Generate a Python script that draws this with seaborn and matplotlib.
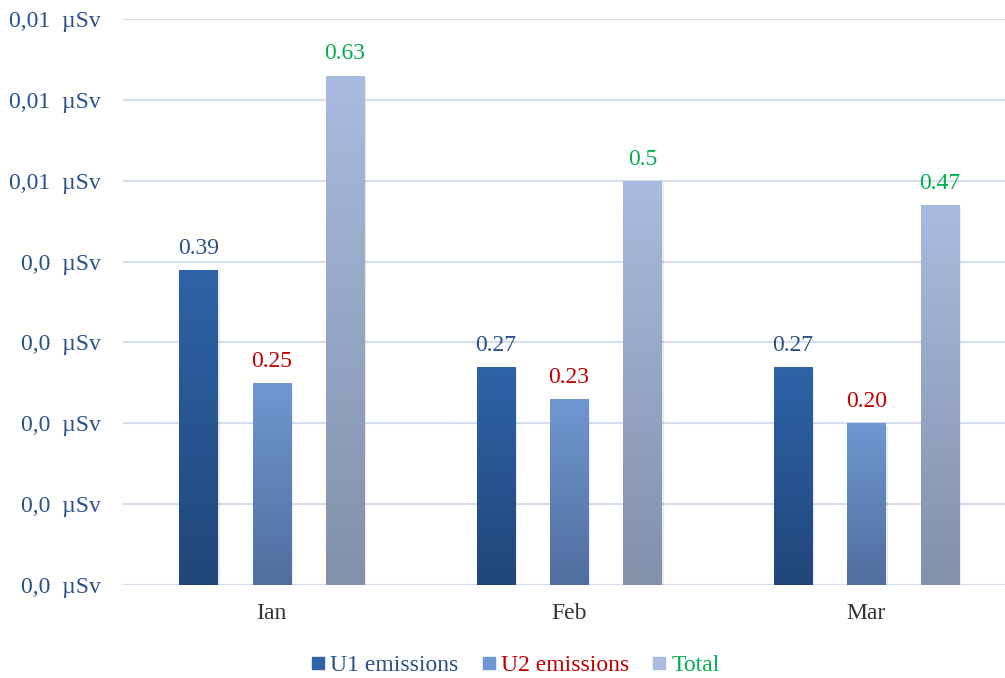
import numpy as np
import pandas as pd
import matplotlib
matplotlib.use("Agg")
import matplotlib.pyplot as plt
import seaborn as sns
from matplotlib.colors import LinearSegmentedColormap
from matplotlib.lines import Line2D

months = ["Ian", "Feb", "Mar"]
series = ["U1 emissions", "U2 emissions", "Total"]
u1_values = [0.39, 0.27, 0.27]
u2_values = [0.25, 0.23, 0.20]
total_values = [0.63, 0.50, 0.47]
value_labels = {
    "U1 emissions": ["0.39", "0.27", "0.27"],
    "U2 emissions": ["0.25", "0.23", "0.20"],
    "Total": ["0.63", "0.5", "0.47"],
}
ytick_values = [0.0, 0.1, 0.2, 0.3, 0.4, 0.5, 0.6, 0.7]
ytick_labels = ["0,0  µSv", "0,0  µSv", "0,0  µSv", "0,0  µSv", "0,0  µSv",
                "0,01  µSv", "0,01  µSv", "0,01  µSv"]

top_colors = {"U1 emissions": "#2E63A7", "U2 emissions": "#6F97D1", "Total": "#A9BBDF"}
bot_colors = {"U1 emissions": "#21467A", "U2 emissions": "#506E9D", "Total": "#8290AA"}
text_colors = {"U1 emissions": "#2A5287", "U2 emissions": "#C00000", "Total": "#00B050"}
axis_text = "#2A5287"

df = pd.DataFrame({
    "month": months * 3,
    "series": [s for s in series for _ in months],
    "value": u1_values + u2_values + total_values,
})

plt.rcParams["font.family"] = ["Liberation Serif", "DejaVu Serif"]
fig = plt.figure(figsize=(10.05, 6.78), dpi=100)
ax = fig.add_axes([123 / 1005, 1 - 585 / 678, (1015 - 123) / 1005, (585 - 19) / 678])

sns.barplot(data=df, x="month", y="value", hue="series", hue_order=series,
            order=months, palette=top_colors, width=0.74, gap=0.48,
            ax=ax, legend=False, saturation=1, linewidth=0)

ax.set_ylim(0, 0.7)
ax.set_xlim(-0.5, 2.5)
ax.set_yticks(ytick_values)
ax.set_yticklabels(ytick_labels)
ax.yaxis.grid(True, color="#D5DEEE", linewidth=1.5)
ax.set_axisbelow(True)
for s in ax.spines.values():
    s.set_visible(False)
ax.tick_params(axis="both", length=0, labelsize=17, colors="#333333")
ax.tick_params(axis="y", pad=16, labelcolor=axis_text)
ax.tick_params(axis="x", pad=13, labelcolor="#333333")
ax.set_xlabel("")
ax.set_ylabel("")

# gradient fills + labels
for container, s in zip(ax.containers, series):
    cmap = LinearSegmentedColormap.from_list(s, [bot_colors[s], top_colors[s]])
    for patch, lab in zip(container.patches, value_labels[s]):
        x0, y0 = patch.get_x(), patch.get_y()
        w, h = patch.get_width(), patch.get_height()
        # shadow
        ax.add_patch(plt.Rectangle((x0 + 0.004, y0 - 0.003), w + 0.004, h,
                                   color="#000000", alpha=0.08, lw=0, zorder=1.5))
        grad = np.linspace(0, 1, 256).reshape(-1, 1)
        im = ax.imshow(grad, extent=[x0, x0 + w, y0, y0 + h], origin="lower",
                       cmap=cmap, aspect="auto", zorder=2.5)
        im.set_clip_path(patch)
        patch.set_zorder(2.4)
        ax.annotate(lab, (x0 + w / 2, y0 + h), xytext=(0, 8), textcoords="offset points",
                    ha="center", va="bottom", fontsize=17, color=text_colors[s])

ax.set_xlim(-0.5, 2.5)
ax.set_ylim(0, 0.7)

handles = [Line2D([], [], marker="s", linestyle="", markersize=9,
                  markerfacecolor=top_colors[s], markeredgecolor=top_colors[s]) for s in series]
leg = fig.legend(handles, series, loc="center", bbox_to_anchor=(514 / 1005, 1 - 665 / 678),
                 ncol=3, frameon=False, fontsize=17, handletextpad=0.1,
                 columnspacing=0.9, handlelength=0.8)
for t, s in zip(leg.get_texts(), series):
    t.set_color(text_colors[s])

fig.savefig("out.png", dpi=100)
